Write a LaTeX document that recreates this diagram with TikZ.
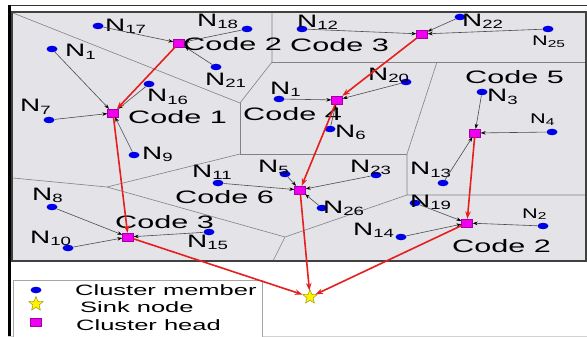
\documentclass[tikz,border=0pt]{standalone}
\usepackage{fontspec}
\setmainfont{Liberation Sans}
\usepackage{graphicx}
\usetikzlibrary{arrows.meta,shapes.geometric}
\definecolor{bgplot}{RGB}{228,228,232}
\definecolor{memblue}{RGB}{0,0,230}
\definecolor{chpink}{RGB}{240,0,240}
\definecolor{redarr}{RGB}{230,30,30}
\definecolor{vline}{RGB}{130,130,130}
\newcommand{\wt}[2]{\scalebox{1.7}[1]{\fontsize{#1}{#1}\selectfont #2}}
\newcommand{\Nb}[1]{\scalebox{1.55}[1]{\fontsize{18}{18}\selectfont N\raisebox{-2pt}{\fontsize{12}{12}\selectfont #1}}}
\newcommand{\Nsm}[1]{\scalebox{1.55}[1]{\fontsize{14}{14}\selectfont N\raisebox{-1.5pt}{\fontsize{10}{10}\selectfont #1}}}
\begin{document}
\begin{tikzpicture}[x=1pt,y=-1pt,
  member/.style={ellipse,fill=memblue,minimum width=11pt,minimum height=6.5pt,inner sep=0pt},
  head/.style={rectangle,fill=chpink,draw=chpink!70!black,line width=0.3pt,minimum width=11pt,minimum height=8pt,inner sep=0pt},
  sink/.style={star,star points=5,star point ratio=2.3,fill=yellow,draw=olive,minimum size=15pt,inner sep=0pt},
  lab/.style={anchor=base west,inner sep=0pt,text=black},
  voro/.style={vline,line width=0.6pt},
  toch/.style={draw=gray!60!black,line width=0.6pt,-{Stealth[length=5pt,width=3.5pt,black]}},
  relay/.style={draw=redarr,line width=1.6pt,-{Stealth[length=7.5pt,width=5.5pt]}},
]
\useasboundingbox (0,0) rectangle (587,337);
\fill[white] (0,0) rectangle (587,337);
\fill[bgplot] (12,12) rectangle (586,261);
% Voronoi cells
\draw[voro] (13,13) -- (240,103) -- (272,62) -- (272,12);
\draw[voro] (272,62) -- (585,62);
\draw[voro] (437,62) -- (407,154) -- (407,195) -- (585,195);
\draw[voro] (240,103) -- (240,154) -- (407,154);
\draw[voro] (407,195) -- (285,237) -- (273,261);
\draw[voro] (285,237) -- (107,187) -- (13,178);
\draw[voro] (107,187) -- (240,154);
% frames
\draw[black!75,line width=1.5pt] (12,12) rectangle (586,261);
\draw[black!80,line width=0.8pt] (8,5) -- (587,5);
\draw[black,line width=3pt] (9.5,5) -- (9.5,337);
\draw[gray!35,line width=0.8pt] (8,336.5) -- (587,336.5);
\draw[gray!70,line width=0.8pt,fill=white] (13,280) rectangle (262,340);
% nodes
\node[member] (n17) at (98,26) {};
\node[member] (n18) at (247,29) {};
\node[head] (ch2t) at (179,43) {};
\node[member] (n1a) at (52,49) {};
\node[member] (n21) at (216,67) {};
\node[member] (n16) at (149,84) {};
\node[member] (n7) at (49,120) {};
\node[head] (ch1) at (113,113) {};
\node[member] (n9) at (134,155) {};
\node[member] (n12) at (302,29) {};
\node[member] (n22) at (460,17) {};
\node[head] (ch3t) at (422,34) {};
\node[member] (n25) at (548,29) {};
\node[member] (n20) at (406,82) {};
\node[head] (ch4) at (337,100) {};
\node[member] (n1b) at (279,99) {};
\node[member] (n6) at (330,129) {};
\node[member] (n3) at (482,92) {};
\node[member] (n4) at (552,132) {};
\node[head] (ch5) at (475,133) {};
\node[member] (n13) at (443,183) {};
\node[member] (n23) at (376,175) {};
\node[head] (ch6) at (300,190) {};
\node[member] (n26) at (322,208) {};
\node[member] (n19) at (415,203) {};
\node[head] (ch2b) at (467,223) {};
\node[member] (n2) at (543,226) {};
\node[member] (n14) at (401,237) {};
\node[sink] (sink) at (310,297) {};
\node[member] (n11) at (218,183) {};
\node[member] (n5) at (285,174) {};
\node[member] (n8) at (52,207) {};
\node[head] (ch3b) at (128,237) {};
\node[member] (n15) at (209,232) {};
\node[member] (n10) at (68,248) {};
% labels
\node[lab] (l17) at (105,32) {\Nb{17}};
\node[lab] (l18) at (197,27) {\Nb{18}};
\node[lab] (lc2t) at (183,51) {\wt{18}{Code 2}};
\node[lab] (l1a) at (65,57) {\Nb{1}};
\node[lab] (l21) at (205,85) {\Nb{21}};
\node[lab] (l16) at (147,102) {\Nb{16}};
\node[lab] (l7) at (20,112) {\Nb{7}};
\node[lab] (lc1) at (128,124) {\wt{18}{Code 1}};
\node[lab] (l9) at (142,159) {\Nb{9}};
\node[lab] (l12) at (297,28) {\Nb{12}};
\node[lab] (l22) at (462,27) {\Nb{22}};
\node[lab] (lc3t) at (290,52) {\wt{18}{Code 3}};
\node[lab] (l25) at (532,46) {\Nsm{25}};
\node[lab] (l20) at (368,81) {\Nb{20}};
\node[lab] (lc5) at (465,84) {\wt{18}{Code 5}};
\node[lab] (l3) at (487,102) {\Nb{3}};
\node[lab] (l4) at (530,124) {\Nsm{4}};
\node[lab] (l6) at (335,137) {\Nb{6}};
\node[lab] (l1b) at (270,95) {\Nb{1}};
\node[lab] (lc4) at (243,121) {\wt{18}{Code 4}};
\node[lab] (l5) at (258,172) {\Nb{5}};
\node[lab] (l23) at (350,172) {\Nb{23}};
\node[lab] (l11) at (192,177) {\Nb{11}};
\node[lab] (l13) at (410,175) {\Nb{13}};
\node[lab] (lc6) at (175,203) {\wt{18}{Code 6}};
\node[lab] (l8) at (32,200) {\Nb{8}};
\node[lab] (lc3b) at (115,228) {\wt{18}{Code 3}};
\node[lab] (l15) at (187,247) {\Nb{15}};
\node[lab] (l10) at (30,243) {\Nb{10}};
\node[lab] (l19) at (410,207) {\Nb{19}};
\node[lab] (l2) at (522,218) {\Nsm{2}};
\node[lab] (l14) at (353,235) {\Nb{14}};
\node[lab] (lc2b) at (452,252) {\wt{18}{Code 2}};
\node[lab] (l26) at (323,213) {\Nb{26}};
% member -> cluster head
\draw[toch] (n17) -- (ch2t);
\draw[toch] (n18) -- (ch2t);
\draw[toch] (n21) -- (ch2t);
\draw[toch] (n1a) -- (ch1);
\draw[toch] (n16) -- (ch1);
\draw[toch] (n7) -- (ch1);
\draw[toch] (n9) -- (ch1);
\draw[toch] (n12) -- (ch3t);
\draw[toch] (n22) -- (ch3t);
\draw[toch] (n25) -- (ch3t);
\draw[toch] (n1b) -- (ch4);
\draw[toch] (n20) -- (ch4);
\draw[toch] (n6) -- (ch4);
\draw[toch] (n3) -- (ch5);
\draw[toch] (n4) -- (ch5);
\draw[toch] (n13) -- (ch5);
\draw[toch] (n5) -- (ch6);
\draw[toch] (n11) -- (ch6);
\draw[toch] (n23) -- (ch6);
\draw[toch] (n26) -- (ch6);
\draw[toch] (n8) -- (ch3b);
\draw[toch] (n10) -- (ch3b);
\draw[toch] (n15) -- (ch3b);
\draw[toch] (n19) -- (ch2b);
\draw[toch] (n14) -- (ch2b);
\draw[toch] (n2) -- (ch2b);
% relays
\draw[relay] (ch2t) -- (ch1);
\draw[relay] (ch1) -- (ch3b);
\draw[relay] (ch3b) -- (sink);
\draw[relay] (ch3t) -- (ch4);
\draw[relay] (ch4) -- (ch6);
\draw[relay] (ch6) -- (sink);
\draw[relay] (ch5) -- (ch2b);
\draw[relay] (ch2b) -- (sink);
% legend
\node[member] (lgm) at (36,290) {};
\node[sink] (lgs) at (36,304) {};
\node[head] (lgh) at (36,322) {};
\node[lab] (lgmt) at (75,295) {\wt{15}{Cluster member}};
\node[lab] (lgst) at (80,312) {\wt{15}{Sink node}};
\node[lab] (lght) at (76,330) {\wt{15}{Cluster head}};
\end{tikzpicture}
\end{document}
